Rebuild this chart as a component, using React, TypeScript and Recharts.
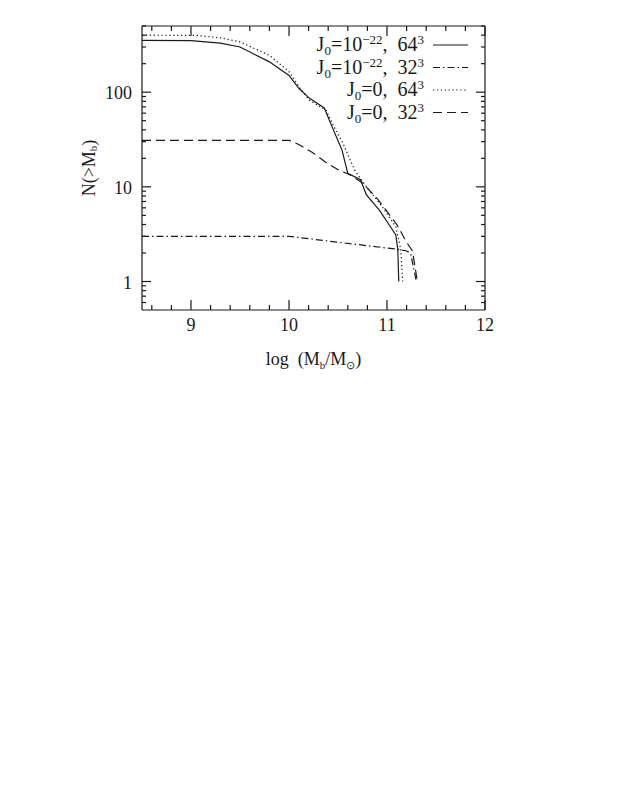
import { LineChart, Line, XAxis, YAxis, Legend } from "recharts";

const FONT = "'Liberation Serif', serif";
const INK = "#1a1a1a";

// J0=10^-22, 64^3 (solid)
const X_J22_64 = [8.5, 9.0, 9.3, 9.5, 9.8, 10.0, 10.1, 10.21, 10.36, 10.44, 10.51, 10.54, 10.6, 10.73, 10.79, 10.92, 11.02, 11.09, 11.11, 11.12];
const N_J22_64 = [352, 350, 330, 300, 209, 150, 110, 86, 68, 43, 29, 24.6, 13.9, 11.9, 8.2, 5.7, 4, 3.1, 2.2, 1];

// J0=10^-22, 32^3 (dash-dot)
const X_J22_32 = [8.5, 10.0, 10.5, 11.09, 11.2, 11.24, 11.3];
const N_J22_32 = [3, 3, 2.6, 2.2, 2.1, 2, 1];

// J0=0, 64^3 (dotted)
const X_J0_64 = [8.5, 9.05, 9.3, 9.5, 9.8, 10.0, 10.1, 10.21, 10.38, 10.45, 10.55, 10.6, 10.67, 10.79, 10.95, 11.09, 11.14, 11.16];
const N_J0_64 = [400, 398, 375, 340, 245, 165, 115, 82, 64, 45, 29, 22, 15, 10, 6.2, 3.8, 2.2, 1];

// J0=0, 32^3 (dashed)
const X_J0_32 = [8.5, 10.0, 10.1, 10.24, 10.38, 10.51, 10.62, 10.75, 10.9, 11.0, 11.1, 11.2, 11.26, 11.31];
const N_J0_32 = [31, 31, 28, 23, 18, 15, 13.4, 11, 7.5, 5.5, 4, 2.6, 2.1, 1];

const X_TICKS = [8.6, 8.8, 9, 9.2, 9.4, 9.6, 9.8, 10, 10.2, 10.4, 10.6, 10.8, 11, 11.2, 11.4, 11.6, 11.8, 12];
const X_LABELS = [9, 10, 11, 12];
const Y_TICKS = [0.6, 0.7, 0.8, 0.9, 1, 2, 3, 4, 5, 6, 7, 8, 9, 10, 20, 30, 40, 50, 60, 70, 80, 90, 100, 200, 300, 400, 500];
const Y_LABELS = [1, 10, 100];

const toRows = (xs: number[], ns: number[]) => xs.map((x, i) => ({ x, n: ns[i] }));

const SERIES = [
  { key: "j22_64", data: toRows(X_J22_64, N_J22_64), dash: undefined, j: "10", exp: "−22", res: "64" },
  { key: "j22_32", data: toRows(X_J22_32, N_J22_32), dash: "7 3 1.5 3", j: "10", exp: "−22", res: "32" },
  { key: "j0_64", data: toRows(X_J0_64, N_J0_64), dash: "1.3 2.6", j: "0", exp: "", res: "64" },
  { key: "j0_32", data: toRows(X_J0_32, N_J0_32), dash: "9 5", j: "0", exp: "", res: "32" },
];

const isIn = (v: number, list: number[]) => list.some((l) => Math.abs(l - v) < 1e-9);

const BottomTick = (props: any) => {
  const { x, y, payload } = props;
  const major = isIn(payload.value, X_LABELS);
  return (
    <g>
      <path d={`M${x},${y}V${y - (major ? 10 : 5)}`} stroke={INK} strokeWidth={1.2} fill="none" />
      {major && (
        <text x={x} y={y + 21} textAnchor="middle" fontFamily={FONT} fontSize={18} fill={INK}>
          {Math.round(payload.value)}
        </text>
      )}
    </g>
  );
};

const TopTick = (props: any) => {
  const { x, y, payload } = props;
  const major = isIn(payload.value, X_LABELS);
  return (
    <g>
      <path d={`M${x},${y}V${y + (major ? 10 : 5)}`} stroke={INK} strokeWidth={1.2} fill="none" />
    </g>
  );
};

const LeftTick = (props: any) => {
  const { x, y, payload } = props;
  const major = isIn(payload.value, Y_LABELS);
  return (
    <g>
      <path d={`M${x},${y}H${x + (major ? 9 : 4)}`} stroke={INK} strokeWidth={1.2} fill="none" />
      {major && (
        <text x={x - 10} y={y + 7} textAnchor="end" fontFamily={FONT} fontSize={18} fill={INK}>
          {payload.value}
        </text>
      )}
    </g>
  );
};

const RightTick = (props: any) => {
  const { x, y, payload } = props;
  const major = isIn(payload.value, Y_LABELS);
  return (
    <g>
      <path d={`M${x},${y}H${x - (major ? 9 : 4)}`} stroke={INK} strokeWidth={1.2} fill="none" />
    </g>
  );
};

const XTitle = ({ viewBox }: any) => (
  <text x={viewBox.x + viewBox.width / 2} y={viewBox.y + 55} textAnchor="middle" fontFamily={FONT} fontSize={18} fill={INK} xmlSpace="preserve">
    log  (M<tspan dy={4} fontSize={11}>b</tspan>
    <tspan dy={-4}>/M</tspan>
    <tspan dy={4} fontSize={11}>⊙</tspan>
    <tspan dy={-4}>)</tspan>
  </text>
);

const YTitle = ({ viewBox }: any) => {
  const cx = viewBox.x + 7;
  const cy = viewBox.y + viewBox.height / 2;
  return (
    <text x={cx} y={cy} transform={`rotate(-90 ${cx} ${cy})`} textAnchor="middle" dominantBaseline="central" fontFamily={FONT} fontSize={18} fill={INK}>
      N(&gt;M<tspan dy={4} fontSize={11}>b</tspan>
      <tspan dy={-4}>)</tspan>
    </text>
  );
};

const LegendBox = () => (
  <svg width={200} height={95}>
    {SERIES.map((s, i) => {
      const cy = 12 + i * 22.5;
      return (
        <g key={s.key}>
          <text x={146} y={cy + 6} textAnchor="end" fontFamily={FONT} fontSize={20} fill={INK} xmlSpace="preserve">
            J<tspan dy={4} fontSize={13}>0</tspan>
            <tspan dy={-4}>={s.j}</tspan>
            {s.exp && <tspan dy={-7} fontSize={13}>{s.exp}</tspan>}
            <tspan dy={s.exp ? 7 : 0}>,  {s.res}</tspan>
            <tspan dy={-7} fontSize={13}>3</tspan>
          </text>
          <path d={`M155,${cy}H190`} stroke={INK} strokeWidth={1.2} strokeDasharray={s.dash} fill="none" />
        </g>
      );
    })}
  </svg>
);

export default function App() {
  return (
    <LineChart width={615} height={420} margin={{ top: 17, right: 137, bottom: 48, left: 74 }}>
      <XAxis
        xAxisId="b"
        type="number"
        dataKey="x"
        domain={[8.5, 12]}
        allowDataOverflow
        ticks={X_TICKS}
        interval={0}
        tick={BottomTick}
        tickLine={false}
        tickSize={0}
        tickMargin={0}
        height={70}
        axisLine={{ stroke: INK, strokeWidth: 1.2 }}
        label={{ content: XTitle }}
      />
      <XAxis
        xAxisId="t"
        orientation="top"
        type="number"
        dataKey="x"
        domain={[8.5, 12]}
        allowDataOverflow
        ticks={X_TICKS}
        interval={0}
        tick={TopTick}
        tickLine={false}
        tickSize={0}
        tickMargin={0}
        height={1}
        axisLine={{ stroke: INK, strokeWidth: 1.2 }}
      />
      <YAxis
        yAxisId="l"
        scale="log"
        domain={[0.5, 500]}
        allowDataOverflow
        ticks={Y_TICKS}
        interval={0}
        tick={LeftTick}
        tickLine={false}
        tickSize={0}
        tickMargin={0}
        width={60}
        axisLine={{ stroke: INK, strokeWidth: 1.2 }}
        label={{ content: YTitle }}
      />
      <YAxis
        yAxisId="r"
        orientation="right"
        scale="log"
        domain={[0.5, 500]}
        allowDataOverflow
        ticks={Y_TICKS}
        interval={0}
        tick={RightTick}
        tickLine={false}
        tickSize={0}
        tickMargin={0}
        width={1}
        axisLine={{ stroke: INK, strokeWidth: 1.2 }}
      />
      <Legend
        layout="horizontal"
        verticalAlign="middle"
        content={<LegendBox />}
        wrapperStyle={{ position: "absolute", left: 270, top: 25, width: 200, height: 95 }}
      />
      {SERIES.map((s) => (
        <Line
          key={s.key}
          xAxisId="b"
          yAxisId="l"
          data={s.data}
          dataKey="n"
          type="linear"
          stroke={INK}
          strokeWidth={1.2}
          strokeDasharray={s.dash}
          dot={false}
          activeDot={false}
          isAnimationActive={false}
        />
      ))}
    </LineChart>
  );
}
